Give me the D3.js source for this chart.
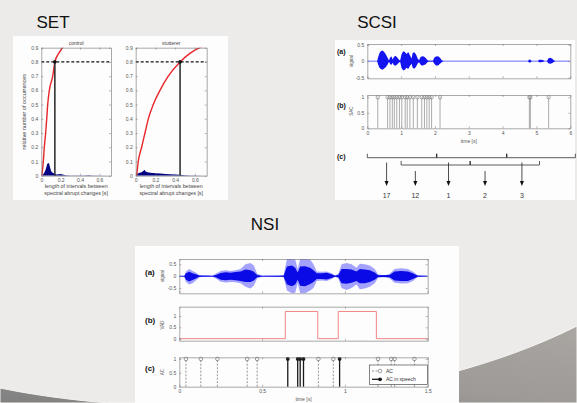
<!DOCTYPE html>
<html>
<head>
<meta charset="utf-8">
<script src="https://cdn.jsdelivr.net/npm/d3@7"></script>
<style>
  body { margin: 0; background: #ecebe9; }
  svg { display: block; font-family: "Liberation Sans", Arial, sans-serif; }
</style>
</head>
<body>
<svg id="slide" width="577" height="403"></svg>
<script>
// ---------------- SET: interval distributions ----------------
const setPanels = ["control", "stutterer"];
const setYTicks = [0, 0.1, 0.2, 0.3, 0.4, 0.5, 0.6, 0.7, 0.8, 0.9];
const setXTicks = [0, 0.2, 0.4, 0.6];
const setLevel = 0.8;
const setThresholds = [0.14, 0.45];
const controlCdf = [[0.005,0],[0.021,0.1],[0.031,0.2],[0.045,0.3],[0.056,0.4],[0.066,0.5],[0.083,0.6],[0.118,0.7],[0.14,0.8],[0.18,0.86],[0.22,0.9],[0.26,0.94]];
const stuttererCdf = [[0.01,0],[0.026,0.1],[0.06,0.2],[0.094,0.3],[0.128,0.4],[0.178,0.5],[0.246,0.6],[0.33,0.7],[0.45,0.8],[0.55,0.86],[0.65,0.9],[0.72,0.92]];
const controlHist = [[0.01,0],[0.02,0.01],[0.03,0.02],[0.04,0.035],[0.05,0.055],[0.06,0.08],[0.07,0.09],[0.08,0.085],[0.09,0.06],[0.1,0.035],[0.11,0.025],[0.12,0.02],[0.14,0.012],[0.16,0.008],[0.18,0.01],[0.2,0.012],[0.22,0.008],[0.25,0.004],[0.3,0.002],[0.35,0.001],[0.45,0.001],[0.48,0.004],[0.5,0.004],[0.52,0.001],[0.72,0]];
const stuttererHist = [[0.01,0],[0.02,0.015],[0.04,0.02],[0.06,0.025],[0.08,0.035],[0.09,0.042],[0.1,0.03],[0.12,0.025],[0.15,0.02],[0.2,0.018],[0.25,0.015],[0.3,0.012],[0.35,0.01],[0.4,0.008],[0.45,0.006],[0.5,0.004],[0.55,0.002],[0.6,0.001],[0.72,0]];
const setXLabel = ["length of intervals between", "spectral abrupt changes [s]"];
const setYLabel = "relative number of occurrences";

// ---------------- SCSI: signal, change indicator, grouping ----------------
const scsiTimeTicks = [0, 1, 2, 3, 4, 5, 6];
const scsiSignalTicks = [-0.5, 0, 0.5];
const scsiIndicatorTicks = [0, 0.5, 1];
// [time, upper, lower] envelope of the waveform
const scsiEnvelope = [[0,0,0],[0.29,0,0],[0.32,0.12,-0.1],[0.36,0.25,-0.2],[0.4,0.3,-0.24],[0.45,0.32,-0.26],[0.5,0.28,-0.22],[0.55,0.2,-0.18],[0.6,0.1,-0.1],[0.64,0.02,-0.02],[0.67,0.1,-0.08],[0.71,0.15,-0.12],[0.75,0.05,-0.05],[0.78,0.12,-0.12],[0.83,0.16,-0.14],[0.88,0.12,-0.1],[0.93,0.05,-0.05],[0.97,0.02,-0.02],[1.01,0.2,-0.2],[1.06,0.3,-0.28],[1.11,0.28,-0.26],[1.16,0.22,-0.2],[1.21,0.28,-0.24],[1.26,0.18,-0.15],[1.31,0.08,-0.08],[1.34,0.25,-0.2],[1.39,0.27,-0.23],[1.44,0.2,-0.17],[1.49,0.08,-0.07],[1.53,0.03,-0.03],[1.57,0.12,-0.1],[1.62,0.15,-0.14],[1.67,0.14,-0.12],[1.72,0.1,-0.1],[1.77,0.04,-0.04],[1.81,0.01,-0.01],[1.94,0.01,-0.01],[1.98,0.1,-0.08],[2.03,0.14,-0.13],[2.09,0.15,-0.13],[2.15,0.1,-0.08],[2.2,0.03,-0.03],[2.25,0,0],[4.75,0,0],[4.78,0.05,-0.04],[4.82,0.04,-0.04],[4.86,0,0],[5.04,0,0],[5.08,0.04,-0.03],[5.14,0.04,-0.03],[5.2,0.03,-0.02],[5.24,0,0],[5.31,0,0],[5.35,0.08,-0.06],[5.4,0.1,-0.08],[5.46,0.08,-0.06],[5.52,0.02,-0.02],[5.56,0,0],[6,0,0]];
const scsiChangeTimes = [0.31,0.6,0.67,0.74,0.8,0.87,0.95,1.02,1.12,1.18,1.26,1.36,1.48,1.61,1.69,1.76,1.83,1.9,2.15,4.79,4.82,5.36];
const scsiOuterSpan = [0, 6.15];
const scsiOuterMarks = [2.05, 4.12];
const scsiInnerSpan = [1.0, 5.09];
const scsiInnerMarks = [3.04];
const scsiArrowTimes = [0.57, 1.42, 2.4, 3.48, 4.57];
const scsiArrowLabels = ["17", "12", "1", "2", "3"];
const scsiArrowLevel = ["outer", "inner", "outer", "inner", "outer"];

// ---------------- NSI: signal, VAD, abrupt changes ----------------
const nsiTimeTicks = [0, 0.5, 1, 1.5];
const nsiSignalTicks = [-0.5, 0, 0.5];
const nsiVadTicks = [0, 0.5, 1];
const nsiAcTicks = [0, 0.5, 1];
const nsiOuter = [[0,0.02,-0.02],[0.03,0.02,-0.02],[0.04,0.2,-0.25],[0.06,0.3,-0.35],[0.08,0.22,-0.3],[0.1,0.15,-0.18],[0.12,0.05,-0.06],[0.14,0.03,-0.03],[0.17,0.04,-0.04],[0.2,0.03,-0.03],[0.22,0.1,-0.1],[0.25,0.22,-0.24],[0.28,0.25,-0.27],[0.31,0.22,-0.25],[0.34,0.25,-0.26],[0.37,0.3,-0.3],[0.4,0.5,-0.45],[0.43,0.55,-0.52],[0.45,0.45,-0.4],[0.47,0.1,-0.1],[0.5,0.03,-0.03],[0.6,0.02,-0.02],[0.63,0.05,-0.05],[0.65,0.72,-0.6],[0.68,0.72,-0.72],[0.7,0.7,-0.7],[0.715,0.3,-0.3],[0.73,0.72,-0.72],[0.76,0.72,-0.72],[0.79,0.7,-0.6],[0.81,0.5,-0.5],[0.83,0.2,-0.2],[0.86,0.18,-0.18],[0.89,0.2,-0.2],[0.92,0.12,-0.12],[0.94,0.03,-0.03],[0.96,0.1,-0.1],[0.98,0.5,-0.5],[1.01,0.55,-0.58],[1.04,0.5,-0.5],[1.07,0.35,-0.35],[1.09,0.52,-0.55],[1.12,0.5,-0.52],[1.15,0.45,-0.45],[1.18,0.3,-0.3],[1.2,0.08,-0.08],[1.24,0.03,-0.03],[1.27,0.1,-0.1],[1.3,0.3,-0.28],[1.34,0.33,-0.31],[1.38,0.3,-0.3],[1.41,0.2,-0.2],[1.44,0.04,-0.04],[1.5,0.02,-0.02]];
const nsiInner = [[0,0.005,-0.005],[0.03,0.01,-0.01],[0.04,0.12,-0.15],[0.06,0.18,-0.22],[0.08,0.12,-0.16],[0.1,0.08,-0.1],[0.12,0.03,-0.03],[0.2,0.01,-0.01],[0.22,0.05,-0.05],[0.25,0.13,-0.15],[0.28,0.16,-0.17],[0.31,0.14,-0.15],[0.34,0.17,-0.17],[0.37,0.2,-0.2],[0.4,0.28,-0.25],[0.43,0.25,-0.25],[0.45,0.18,-0.18],[0.47,0.05,-0.05],[0.5,0.01,-0.01],[0.63,0.02,-0.02],[0.65,0.4,-0.35],[0.68,0.45,-0.42],[0.7,0.35,-0.35],[0.715,0.15,-0.15],[0.73,0.4,-0.4],[0.76,0.42,-0.42],[0.79,0.35,-0.33],[0.81,0.25,-0.25],[0.83,0.12,-0.12],[0.86,0.12,-0.12],[0.89,0.14,-0.14],[0.92,0.08,-0.08],[0.94,0.02,-0.02],[0.96,0.05,-0.05],[0.98,0.3,-0.3],[1.01,0.3,-0.32],[1.04,0.28,-0.28],[1.07,0.2,-0.2],[1.09,0.3,-0.3],[1.12,0.28,-0.3],[1.15,0.25,-0.25],[1.18,0.15,-0.15],[1.2,0.04,-0.04],[1.27,0.05,-0.05],[1.3,0.2,-0.18],[1.34,0.22,-0.2],[1.38,0.2,-0.2],[1.41,0.12,-0.12],[1.44,0.02,-0.02],[1.5,0.005,-0.005]];
const nsiVadSteps = [[0,0],[0.64,1.2],[0.836,0],[0.96,1.2],[1.19,0],[1.5,0]];
const nsiAcTimes = [0.04, 0.13, 0.23, 0.41, 0.47, 0.84, 0.93, 1.2, 1.28, 1.3, 1.42];
const nsiAcSpeechTimes = [0.655, 0.715, 0.73, 0.75, 0.968];
const nsiLegend = ["AC", "AC in speech"];

// ---------------- drawing ----------------
const svg = d3.select("#slide");
const defs = svg.append("defs");

// slide background with the lower swoosh
svg.append("rect").attr("width", 577).attr("height", 403).attr("fill", "#ecebe9");
const grad = defs.append("linearGradient").attr("id", "swoosh").attr("x1", 0).attr("y1", 1).attr("x2", 1).attr("y2", 0);
grad.append("stop").attr("offset", 0).attr("stop-color", "#7f7f7f");
grad.append("stop").attr("offset", 0.5).attr("stop-color", "#9d9a97");
grad.append("stop").attr("offset", 1).attr("stop-color", "#aaa6a2");
svg.append("path")
  .attr("d", "M0,388 C180,425 420,405 577,326 L577,403 L0,403 Z")
  .attr("fill", "url(#swoosh)")
  .attr("stroke", "#f6f4f2").attr("stroke-width", 1);

const TICK_FONT = 5;
const TICK_COLOR = "#555";
const FRAME_COLOR = "#707070";

// MATLAB-style boxed axes with inward ticks on all sides
function boxAxes(g, x, y, xTicks, yTicks, opts = {}) {
  const [x0, x1] = x.range();
  const [y0, y1] = y.range();
  const fmt = d => (d === 0 ? "0" : String(d));
  const style = sel => {
    sel.select(".domain").attr("stroke", FRAME_COLOR).attr("stroke-width", 0.6);
    sel.selectAll(".tick line").attr("stroke", FRAME_COLOR).attr("stroke-width", 0.5);
    sel.selectAll(".tick text").attr("font-size", TICK_FONT).attr("fill", TICK_COLOR).attr("font-family", "Liberation Sans, Arial, sans-serif");
  };
  g.append("g").attr("transform", `translate(0,${y0})`)
    .call(d3.axisBottom(x).tickValues(xTicks).tickSizeInner(-2).tickSizeOuter(0).tickPadding(3)
      .tickFormat(opts.xLabels === false ? "" : fmt)).call(style);
  g.append("g").attr("transform", `translate(0,${y1})`)
    .call(d3.axisTop(x).tickValues(xTicks).tickSizeInner(-2).tickSizeOuter(0).tickFormat("")).call(style);
  g.append("g").attr("transform", `translate(${x0},0)`)
    .call(d3.axisLeft(y).tickValues(yTicks).tickSizeInner(-2).tickSizeOuter(0).tickPadding(3).tickFormat(fmt)).call(style);
  g.append("g").attr("transform", `translate(${x1},0)`)
    .call(d3.axisRight(y).tickValues(yTicks).tickSizeInner(-2).tickSizeOuter(0).tickFormat("")).call(style);
}

let clipCount = 0;
function clipFor(x, y) {
  const id = "clip" + (clipCount++);
  const [x0, x1] = x.range(), [y0, y1] = y.range();
  defs.append("clipPath").attr("id", id).append("rect")
    .attr("x", x0).attr("y", y1).attr("width", x1 - x0).attr("height", y0 - y1);
  return `url(#${id})`;
}

function text(g, x, y, s, size, opts = {}) {
  const t = g.append("text").attr("x", x).attr("y", y).text(s)
    .attr("font-size", size).attr("fill", opts.fill || "#222")
    .attr("text-anchor", opts.anchor || "middle");
  if (opts.bold) t.attr("font-weight", "bold");
  if (opts.rotate) t.attr("transform", `rotate(-90,${x},${y})`);
  return t;
}

// section titles
text(svg, 53, 27.5, "SET", 17, { fill: "#111" });
text(svg, 377, 27.5, "SCSI", 17, { fill: "#111" });
text(svg, 265, 230, "NSI", 17, { fill: "#111" });

// ===== SET =====
const setG = svg.append("g");
setG.append("rect").attr("x", 13).attr("y", 36).attr("width", 215).attr("height", 164).attr("fill", "#fdfdfd");
const setRanges = [[41.3, 111], [135.7, 206.7]];
const setCdfs = [controlCdf, stuttererCdf];
const setHists = [controlHist, stuttererHist];
const setY = d3.scaleLinear().domain([0, 0.9]).range([175.7, 47.7]);
setPanels.forEach((name, i) => {
  const x = d3.scaleLinear().domain([0, 0.72]).range(setRanges[i]);
  const g = setG.append("g");
  const clip = clipFor(x, setY);
  const body = g.append("g").attr("clip-path", clip);
  body.append("path").datum(setHists[i])
    .attr("d", d3.area().x(d => x(d[0])).y0(setY(0)).y1(d => setY(d[1])))
    .attr("fill", "#000080");
  body.append("path").datum(setCdfs[i])
    .attr("d", d3.line().x(d => x(d[0])).y(d => setY(d[1])).curve(d3.curveMonotoneX))
    .attr("fill", "none").attr("stroke", "#e8262a").attr("stroke-width", 1.4);
  body.append("line")
    .attr("x1", x(0)).attr("x2", x(0.72)).attr("y1", setY(setLevel)).attr("y2", setY(setLevel))
    .attr("stroke", "#111").attr("stroke-width", 1.1).attr("stroke-dasharray", "3,2");
  body.append("line")
    .attr("x1", x(setThresholds[i])).attr("x2", x(setThresholds[i]))
    .attr("y1", setY(0)).attr("y2", setY(setLevel))
    .attr("stroke", "#333").attr("stroke-width", 1.6);
  body.append("circle").attr("cx", x(setThresholds[i])).attr("cy", setY(setLevel)).attr("r", 1.8).attr("fill", "#111");
  boxAxes(g, x, setY, setXTicks, setYTicks);
  const cx = (setRanges[i][0] + setRanges[i][1]) / 2;
  text(g, cx, 44.5, name, 5, { fill: "#444" });
  text(g, cx, 188, setXLabel[0], 5.3, { fill: "#444" });
  text(g, cx, 194.5, setXLabel[1], 5.3, { fill: "#444" });
});
text(setG, 26.5, 111.7, setYLabel, 5.5, { fill: "#444", rotate: true });

// ===== SCSI =====
const scsiG = svg.append("g");
scsiG.append("rect").attr("x", 335).attr("y", 40).attr("width", 240).attr("height", 160).attr("fill", "#fdfdfd");
const scsiX = d3.scaleLinear().domain([0, 6]).range([367.3, 570.3]);
const scsiSigY = d3.scaleLinear().domain([-0.52, 0.52]).range([78.3, 44]);
const scsiIndY = d3.scaleLinear().domain([0, 1.075]).range([128.3, 95]);

{
  const g = scsiG.append("g");
  const body = g.append("g").attr("clip-path", clipFor(scsiX, scsiSigY));
  body.append("line").attr("x1", scsiX(0)).attr("x2", scsiX(6)).attr("y1", scsiSigY(0)).attr("y2", scsiSigY(0))
    .attr("stroke", "#2a2aff").attr("stroke-width", 0.7);
  body.append("path").datum(scsiEnvelope)
    .attr("d", d3.area().x(d => scsiX(d[0])).y0(d => scsiSigY(d[2])).y1(d => scsiSigY(d[1])))
    .attr("fill", "#1414f0");
  boxAxes(g, scsiX, scsiSigY, scsiTimeTicks, scsiSignalTicks, { xLabels: false });
  text(g, 337, 54, "(a)", 7, { bold: true, anchor: "start", fill: "#111" });
  text(g, 352.5, 61, "signal", 4.5, { fill: "#555", rotate: true });
}
{
  const g = scsiG.append("g");
  const body = g.append("g");
  body.selectAll("line.stem").data(scsiChangeTimes).join("line")
    .attr("x1", d => scsiX(d)).attr("x2", d => scsiX(d))
    .attr("y1", scsiIndY(0)).attr("y2", scsiIndY(1))
    .attr("stroke", "#8a8a8a").attr("stroke-width", 0.7);
  body.selectAll("circle").data(scsiChangeTimes).join("circle")
    .attr("cx", d => scsiX(d)).attr("cy", scsiIndY(1)).attr("r", 1.7)
    .attr("fill", "none").attr("stroke", "#777").attr("stroke-width", 0.6);
  boxAxes(g, scsiX, scsiIndY, scsiTimeTicks, scsiIndicatorTicks);
  text(g, 337, 107.5, "(b)", 7, { bold: true, anchor: "start", fill: "#111" });
  text(g, 352.5, 111, "SAC", 4.5, { fill: "#555", rotate: true });
  text(g, scsiX(3), 142.5, "time [s]", 5, { fill: "#555" });
}
{
  const g = scsiG.append("g");
  text(g, 337, 159, "(c)", 7, { bold: true, anchor: "start", fill: "#111" });
  const outerY = 157.7, innerY = 165;
  const bracket = (span, marks, yy) => {
    g.append("path")
      .attr("d", `M${scsiX(span[0])},${yy - 4} V${yy} H${scsiX(span[1])} V${yy - 4}`)
      .attr("fill", "none").attr("stroke", "#333").attr("stroke-width", 0.8);
    g.selectAll(null).data(marks).join("line")
      .attr("x1", d => scsiX(d)).attr("x2", d => scsiX(d))
      .attr("y1", yy - 4).attr("y2", yy)
      .attr("stroke", "#333").attr("stroke-width", 1.4);
  };
  bracket(scsiOuterSpan, scsiOuterMarks, outerY);
  bracket(scsiInnerSpan, scsiInnerMarks, innerY);
  scsiArrowTimes.forEach((t, i) => {
    const x = scsiX(t);
    const top = scsiArrowLevel[i] === "outer" ? 162.5 : 171;
    g.append("line").attr("x1", x).attr("x2", x).attr("y1", top).attr("y2", 182)
      .attr("stroke", "#222").attr("stroke-width", 0.8);
    g.append("path").attr("d", `M${x - 2},${181} L${x + 2},${181} L${x},${186} Z`).attr("fill", "#111");
    text(g, x, 197.5, scsiArrowLabels[i], 7, { fill: "#333" });
  });
}

// ===== NSI =====
const nsiG = svg.append("g");
nsiG.append("rect").attr("x", 135).attr("y", 246).attr("width", 324).attr("height", 160).attr("fill", "#fdfdfd");
const nsiX = d3.scaleLinear().domain([0, 1.5]).range([179.3, 427.7]);
const nsiSigY = d3.scaleLinear().domain([-0.72, 0.72]).range([293.3, 259]);
const nsiVadY = d3.scaleLinear().domain([-0.09, 1.41]).range([340.7, 306.7]);
const nsiAcY = d3.scaleLinear().domain([0, 1.06]).range([386.7, 357.3]);

{
  const g = nsiG.append("g");
  const body = g.append("g").attr("clip-path", clipFor(nsiX, nsiSigY));
  body.append("line").attr("x1", nsiX(0)).attr("x2", nsiX(1.5)).attr("y1", nsiSigY(0)).attr("y2", nsiSigY(0))
    .attr("stroke", "#3a3aff").attr("stroke-width", 0.8);
  body.append("path").datum(nsiOuter)
    .attr("d", d3.area().x(d => nsiX(d[0])).y0(d => nsiSigY(d[2])).y1(d => nsiSigY(d[1])))
    .attr("fill", "#5a5aff").attr("fill-opacity", 0.55);
  body.append("path").datum(nsiInner)
    .attr("d", d3.area().x(d => nsiX(d[0])).y0(d => nsiSigY(d[2])).y1(d => nsiSigY(d[1])))
    .attr("fill", "#0a0ae6");
  boxAxes(g, nsiX, nsiSigY, nsiTimeTicks, nsiSignalTicks, { xLabels: false });
  text(g, 145, 274.5, "(a)", 8, { bold: true, anchor: "start", fill: "#111" });
  text(g, 164, 276, "signal", 4.5, { fill: "#555", rotate: true });
}
{
  const g = nsiG.append("g");
  g.append("path").datum(nsiVadSteps)
    .attr("d", d3.line().x(d => nsiX(d[0])).y(d => nsiVadY(d[1])).curve(d3.curveStepAfter))
    .attr("fill", "none").attr("stroke", "#f08585").attr("stroke-width", 1);
  boxAxes(g, nsiX, nsiVadY, nsiTimeTicks, nsiVadTicks, { xLabels: false });
  text(g, 145, 322.5, "(b)", 8, { bold: true, anchor: "start", fill: "#111" });
  text(g, 164, 325, "VAD", 4.5, { fill: "#555", rotate: true });
}
{
  const g = nsiG.append("g");
  g.selectAll("line.ac").data(nsiAcTimes).join("line")
    .attr("x1", d => nsiX(d)).attr("x2", d => nsiX(d))
    .attr("y1", nsiAcY(0)).attr("y2", nsiAcY(1))
    .attr("stroke", "#7a7a7a").attr("stroke-width", 0.8).attr("stroke-dasharray", "2,1.5");
  g.selectAll("circle.ac").data(nsiAcTimes).join("circle")
    .attr("cx", d => nsiX(d)).attr("cy", nsiAcY(1)).attr("r", 1.8)
    .attr("fill", "none").attr("stroke", "#777").attr("stroke-width", 0.7);
  g.selectAll("line.sp").data(nsiAcSpeechTimes).join("line")
    .attr("x1", d => nsiX(d)).attr("x2", d => nsiX(d))
    .attr("y1", nsiAcY(0)).attr("y2", nsiAcY(1))
    .attr("stroke", "#1a1a1a").attr("stroke-width", 1.3);
  g.selectAll("circle.sp").data(nsiAcSpeechTimes).join("circle")
    .attr("cx", d => nsiX(d)).attr("cy", nsiAcY(1)).attr("r", 1.9)
    .attr("fill", "#1a1a1a");
  boxAxes(g, nsiX, nsiAcY, nsiTimeTicks, nsiAcTicks);
  text(g, 145, 370.5, "(c)", 8, { bold: true, anchor: "start", fill: "#111" });
  text(g, 164, 372, "AC", 4.5, { fill: "#555", rotate: true });
  text(g, nsiX(0.75), 401, "time [s]", 5, { fill: "#555" });

  // legend
  const lg = g.append("g");
  lg.append("rect").attr("x", 369.3).attr("y", 365).attr("width", 58.4).attr("height", 19.3)
    .attr("fill", "#fff").attr("stroke", "#333").attr("stroke-width", 0.6);
  const rows = [371, 379.3];
  lg.append("line").attr("x1", 372).attr("x2", 382).attr("y1", rows[0]).attr("y2", rows[0])
    .attr("stroke", "#777").attr("stroke-width", 0.8).attr("stroke-dasharray", "2,1.5");
  lg.append("circle").attr("cx", 380).attr("cy", rows[0]).attr("r", 1.8).attr("fill", "#fff").attr("stroke", "#777").attr("stroke-width", 0.7);
  lg.append("line").attr("x1", 372).attr("x2", 382).attr("y1", rows[1]).attr("y2", rows[1])
    .attr("stroke", "#1a1a1a").attr("stroke-width", 1.3);
  lg.append("circle").attr("cx", 380).attr("cy", rows[1]).attr("r", 1.9).attr("fill", "#1a1a1a");
  nsiLegend.forEach((s, i) => text(lg, 386, rows[i] + 1.8, s, 5, { anchor: "start", fill: "#333" }));
}
</script>
</body>
</html>
